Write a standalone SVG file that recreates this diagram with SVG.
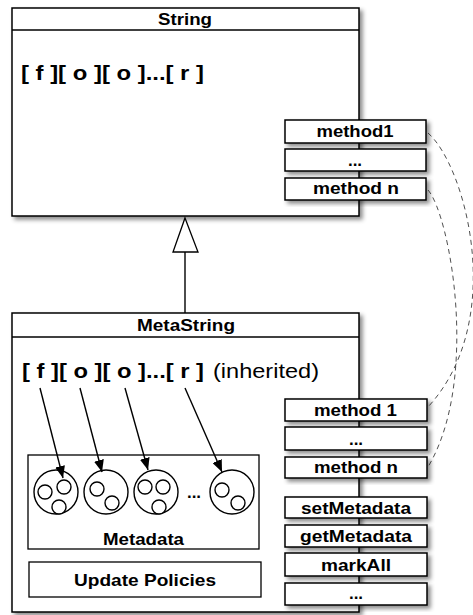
<svg xmlns="http://www.w3.org/2000/svg" width="473" height="615" viewBox="0 0 473 615">
<style>
  .box { fill: #fff; stroke: #000; stroke-width: 1.5; }
  .plain { fill: #fff; stroke: #000; stroke-width: 1.3; }
  .lbl { font-family: "Liberation Sans", Arial, sans-serif; font-weight: bold; font-size: 17px; fill: #000; text-anchor: middle; }
  .big { font-family: "Liberation Sans", Arial, sans-serif; font-weight: bold; font-size: 20px; fill: #000; }
  .reg { font-family: "Liberation Sans", Arial, sans-serif; font-weight: normal; font-size: 20px; fill: #000; }
  .circ { fill: #fff; stroke: #000; stroke-width: 1.4; }
  .arrow { stroke: #000; stroke-width: 1.4; fill: none; marker-end: url(#ah); }
  .dash { stroke: #222; stroke-width: 0.8; fill: none; stroke-dasharray: 5 4; }
</style>
<defs>
  <filter id="sh" x="-10%" y="-10%" width="130%" height="140%">
    <feDropShadow dx="3" dy="3" stdDeviation="2" flood-color="#000" flood-opacity="0.45"/>
  </filter>
  <marker id="ah" markerUnits="userSpaceOnUse" markerWidth="12" markerHeight="10" refX="12" refY="5" orient="auto">
    <path d="M0,0 L12,5 L0,10 z" fill="#000"/>
  </marker>
</defs>

<g id="String">
  <rect class="box" x="12" y="8" width="347" height="208" filter="url(#sh)"/>
  <line x1="12" y1="30" x2="359" y2="30" stroke="#000" stroke-width="1.5"/>
  <text class="lbl" x="185" y="25" textLength="54" lengthAdjust="spacingAndGlyphs">String</text>
  <text class="big" x="21" y="80" textLength="183" lengthAdjust="spacingAndGlyphs">[ f ][ o ][ o ]...[ r ]</text>
</g>

<g id="string-method1">
  <rect class="box" x="285" y="120" width="141" height="23" filter="url(#sh)"/>
  <text class="lbl" x="355" y="137" textLength="77" lengthAdjust="spacingAndGlyphs">method1</text>
</g>
<g id="string-method-dots">
  <rect class="box" x="285" y="149" width="141" height="22" filter="url(#sh)"/>
  <text class="lbl" x="355" y="166">...</text>
</g>
<g id="string-methodn">
  <rect class="box" x="285" y="178" width="141" height="22" filter="url(#sh)"/>
  <text class="lbl" x="356" y="194" textLength="86" lengthAdjust="spacingAndGlyphs">method n</text>
</g>

<g id="MetaString">
  <rect class="box" x="12" y="313" width="347" height="299" filter="url(#sh)"/>
  <line x1="12" y1="337" x2="359" y2="337" stroke="#000" stroke-width="1.5"/>
  <text class="lbl" x="186" y="331" textLength="98" lengthAdjust="spacingAndGlyphs">MetaString</text>
  <text class="big" x="22" y="378" textLength="182" lengthAdjust="spacingAndGlyphs">[ f ][ o ][ o ]...[ r ]</text>
  <text class="reg" x="213" y="378" textLength="106" lengthAdjust="spacingAndGlyphs">(inherited)</text>
</g>

<g id="Metadata">
  <rect class="plain" x="28" y="455" width="231" height="94"/>
  <circle class="circ" cx="56" cy="492" r="22"/>
  <circle class="circ" cx="45" cy="492" r="7"/>
  <circle class="circ" cx="64" cy="487" r="7"/>
  <circle class="circ" cx="59" cy="507" r="7"/>
  <circle class="circ" cx="106" cy="492" r="22"/>
  <circle class="circ" cx="97" cy="489" r="7"/>
  <circle class="circ" cx="112" cy="503" r="7"/>
  <circle class="circ" cx="156" cy="492" r="22"/>
  <circle class="circ" cx="145" cy="487" r="7"/>
  <circle class="circ" cx="163" cy="487" r="7"/>
  <circle class="circ" cx="159" cy="507" r="7"/>
  <text class="lbl" x="194" y="498">...</text>
  <circle class="circ" cx="232" cy="492" r="22"/>
  <circle class="circ" cx="222" cy="490" r="7"/>
  <circle class="circ" cx="238" cy="503" r="7"/>
  <text class="lbl" x="143.5" y="545" textLength="81" lengthAdjust="spacingAndGlyphs">Metadata</text>
</g>

<g id="UpdatePolicies">
  <rect class="plain" x="29" y="562" width="232" height="35"/>
  <text class="lbl" x="145" y="586" textLength="142" lengthAdjust="spacingAndGlyphs">Update Policies</text>
</g>

<g id="meta-method1">
  <rect class="box" x="285" y="399" width="142" height="22" filter="url(#sh)"/>
  <text class="lbl" x="355.5" y="416" textLength="83" lengthAdjust="spacingAndGlyphs">method 1</text>
</g>
<g id="meta-method-dots">
  <rect class="box" x="285" y="427" width="142" height="23" filter="url(#sh)"/>
  <text class="lbl" x="356" y="445">...</text>
</g>
<g id="meta-methodn">
  <rect class="box" x="285" y="457" width="142" height="21" filter="url(#sh)"/>
  <text class="lbl" x="356" y="473" textLength="84" lengthAdjust="spacingAndGlyphs">method n</text>
</g>
<g id="setMetadata">
  <rect class="box" x="285" y="497" width="142" height="21" filter="url(#sh)"/>
  <text class="lbl" x="356" y="514" textLength="110" lengthAdjust="spacingAndGlyphs">setMetadata</text>
</g>
<g id="getMetadata">
  <rect class="box" x="285" y="525" width="142" height="22" filter="url(#sh)"/>
  <text class="lbl" x="356" y="542" textLength="112" lengthAdjust="spacingAndGlyphs">getMetadata</text>
</g>
<g id="markAll">
  <rect class="box" x="285" y="553" width="142" height="23" filter="url(#sh)"/>
  <text class="lbl" x="356" y="571" textLength="70" lengthAdjust="spacingAndGlyphs">markAll</text>
</g>
<g id="meta-method-dots2">
  <rect class="box" x="285" y="583" width="142" height="22" filter="url(#sh)"/>
  <text class="lbl" x="356" y="599">...</text>
</g>

<g id="connectors">
  <line x1="185" y1="252" x2="185" y2="313" stroke="#000" stroke-width="1.4"/>
  <polygon points="185,218 198,252 173,252" fill="#fff" stroke="#000" stroke-width="1.3"/>
  <line class="arrow" x1="40" y1="388" x2="63" y2="478"/>
  <line class="arrow" x1="80" y1="388" x2="102" y2="472"/>
  <line class="arrow" x1="125" y1="388" x2="148" y2="470"/>
  <line class="arrow" x1="185" y1="388" x2="222" y2="472"/>
  <path class="dash" d="M428,133 C465,165 508,320 428,407"/>
  <path class="dash" d="M428,190 C450,215 480,380 428,467"/>
</g>
</svg>
